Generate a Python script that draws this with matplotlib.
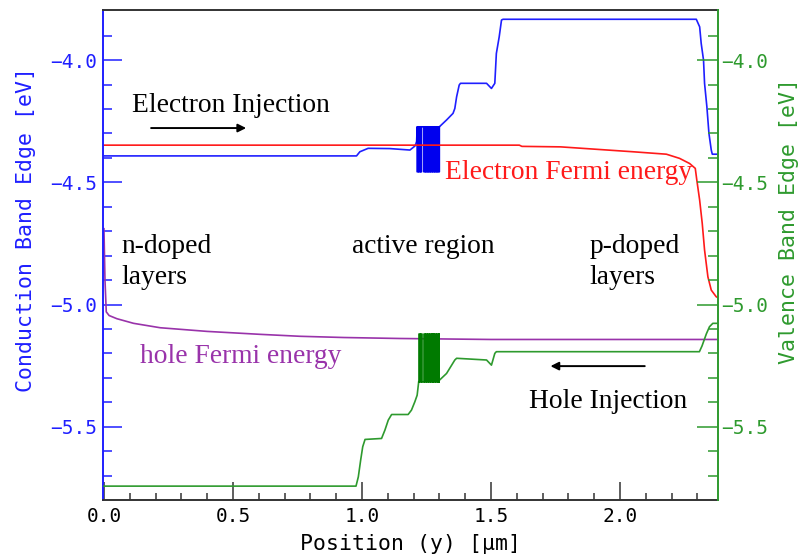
import numpy as np
import matplotlib
matplotlib.use("Agg")
import matplotlib.pyplot as plt
from matplotlib.ticker import FuncFormatter

# band edge profiles along the device [um, eV]
cb_left_x = [0.0, 0.979, 0.992, 1.024, 1.108, 1.186, 1.205, 1.212]
cb_left_y = [-4.392, -4.392, -4.375, -4.361, -4.362, -4.368, -4.352, -4.335]
cb_right_x = [1.300, 1.328, 1.353, 1.360, 1.367, 1.377, 1.382, 1.483, 1.502, 1.515,
              1.521, 1.532, 1.541, 1.547, 2.296, 2.309, 2.315, 2.324, 2.328, 2.337,
              2.345, 2.354, 2.358, 2.380]
cb_right_y = [-4.273, -4.245, -4.218, -4.198, -4.150, -4.102, -4.095, -4.095, -4.116, -4.095,
              -3.973, -3.905, -3.836, -3.833, -3.833, -3.864, -3.932, -4.000, -4.095, -4.191,
              -4.300, -4.368, -4.385, -4.385]
cb_barrier = -4.273
cb_well = -4.457
cb_wells = [(1.214, 1.218), (1.221, 1.225), (1.228, 1.231), (1.240, 1.244), (1.247, 1.251),
            (1.254, 1.258), (1.261, 1.265), (1.268, 1.272), (1.275, 1.279), (1.282, 1.286),
            (1.289, 1.293), (1.296, 1.300)]

vb_left_x = [0.0, 0.977, 0.986, 0.995, 1.003, 1.012, 1.076, 1.089, 1.102, 1.115, 1.179,
             1.192, 1.205, 1.214, 1.220]
vb_left_y = [-5.743, -5.743, -5.705, -5.637, -5.582, -5.552, -5.548, -5.514, -5.473, -5.450, -5.450,
             -5.432, -5.398, -5.371, -5.316]
vb_right_x = [1.300, 1.328, 1.360, 1.367, 1.483, 1.502, 1.515, 1.521, 2.308, 2.318, 2.335,
              2.347, 2.360, 2.380]
vb_right_y = [-5.310, -5.282, -5.227, -5.220, -5.227, -5.248, -5.200, -5.193, -5.193, -5.170, -5.120,
              -5.091, -5.077, -5.077]
vb_barrier = -5.316
vb_well = -5.121
vb_wells = [(1.220, 1.224), (1.227, 1.231), (1.242, 1.246), (1.249, 1.253), (1.256, 1.260),
            (1.263, 1.267), (1.270, 1.274), (1.277, 1.281), (1.284, 1.288), (1.291, 1.295),
            (1.297, 1.300)]

efn_x = [0.0, 1.61, 1.62, 1.77, 2.05, 2.18, 2.231, 2.27, 2.292, 2.298, 2.309, 2.319,
         2.328, 2.341, 2.354, 2.373, 2.380]
efn_y = [-4.348, -4.348, -4.353, -4.355, -4.375, -4.385, -4.402, -4.423, -4.443, -4.491, -4.573, -4.668,
         -4.777, -4.887, -4.941, -4.968, -4.972]

efp_x = [0.0, 0.004, 0.009, 0.02, 0.05, 0.115, 0.218, 0.4, 0.605, 0.76, 0.93, 1.147, 1.5, 2.38]
efp_y = [-4.69, -4.90, -5.03, -5.045, -5.058, -5.077, -5.095, -5.11, -5.122, -5.13, -5.135, -5.139,
         -5.143, -5.143]

BLUE = "#1f1fff"
RED = "#ff1a1a"
PURPLE = "#9933aa"
GREEN = "#2e9a2e"
DKGREEN = "#007a00"


def qw_profile(wells, barrier, well):
    # square-well stack: barrier between wells, step down/up at each edge
    xs, ys = [], []
    for a, b in wells:
        xs += [a, a, b, b]
        ys += [barrier, well, well, barrier]
    return xs, ys


fmt = FuncFormatter(lambda v, pos: f"{v:.1f}".replace("-", "\u2212"))

fig = plt.figure(figsize=(8.04, 5.55), dpi=100)
ax = fig.add_axes([0.128, 0.099, 0.765, 0.883])
ax2 = ax.twinx()

lw = 1.2
ax.plot(cb_left_x, cb_left_y, color=BLUE, lw=lw)
ax.plot(cb_right_x, cb_right_y, color=BLUE, lw=lw)
qx, qy = qw_profile(cb_wells, cb_barrier, cb_well)
ax.plot([cb_left_x[-1]] + qx + [cb_right_x[0]], [cb_left_y[-1]] + qy + [cb_right_y[0]],
        color="#0000ee", lw=lw)

ax.plot(efn_x, efn_y, color=RED, lw=lw)
ax.plot(efp_x, efp_y, color=PURPLE, lw=lw)

ax2.plot(vb_left_x, vb_left_y, color=GREEN, lw=lw)
ax2.plot(vb_right_x, vb_right_y, color=GREEN, lw=lw)
qx, qy = qw_profile(vb_wells, vb_barrier, vb_well)
ax2.plot([vb_left_x[-1]] + qx + [vb_right_x[0]], [vb_left_y[-1]] + qy + [vb_right_y[0]],
         color=DKGREEN, lw=lw)

# axes ranges and ticks
for a in (ax, ax2):
    a.set_xlim(-0.004, 2.38)
    a.set_ylim(-5.80, -3.795)
    a.set_yticks([-5.5, -5.0, -4.5, -4.0])
    a.set_yticks(np.arange(-5.7, -3.85, 0.1), minor=True)
    a.yaxis.set_major_formatter(fmt)
ax.set_xticks([0.0, 0.5, 1.0, 1.5, 2.0])
ax.set_xticks(np.arange(0.1, 2.35, 0.1), minor=True)
ax.xaxis.set_major_formatter(fmt)

mono = "DejaVu Sans Mono"
ax.tick_params(axis="x", which="major", direction="in", length=13, width=1.1,
               color="#333333", labelsize=14, pad=5)
ax.tick_params(axis="x", which="minor", direction="in", length=5, width=1.1, color="#333333")
ax.tick_params(axis="y", which="major", direction="in", length=14, width=1.1,
               color=BLUE, labelcolor=BLUE, labelsize=14, pad=4)
ax.tick_params(axis="y", which="minor", direction="in", length=6.5, width=1.1, color=BLUE)
ax2.tick_params(axis="y", which="major", direction="in", length=15, width=1.1,
                color=GREEN, labelcolor=GREEN, labelsize=14, pad=2)
ax2.tick_params(axis="y", which="minor", direction="in", length=7.5, width=1.1, color=GREEN)
for lab in ax.get_xticklabels() + ax.get_yticklabels() + ax2.get_yticklabels():
    lab.set_family(mono)

ax.spines["left"].set_color(BLUE)
ax.spines["right"].set_visible(False)
ax.spines["top"].set_color("#333333")
ax.spines["bottom"].set_color("#333333")
ax2.spines["right"].set_color(GREEN)
ax2.spines["left"].set_visible(False)
ax2.spines["top"].set_visible(False)
ax2.spines["bottom"].set_visible(False)
for s in ("left", "top", "bottom"):
    ax.spines[s].set_linewidth(1.4)
ax2.spines["right"].set_linewidth(1.4)

ax.set_xlabel("Position (y) [\u03bcm]", family=mono, fontsize=15.5)
ax.xaxis.set_label_coords(0.5, -0.07)
fig.text(26 / 804, 1 - 230 / 555, "Conduction Band Edge [eV]", family=mono, fontsize=15.5,
         color=BLUE, rotation=90, ha="center", va="center")
fig.text(789 / 804, 1 - 221 / 555, "Valence Band Edge [eV]", family=mono, fontsize=15.5,
         color=GREEN, rotation=90, ha="center", va="center")

# annotations
serif = "Liberation Serif"
fs = 19.8
ax.text(0.108, -4.213, "Electron Injection", family=serif, fontsize=fs, va="baseline")
ax.annotate("", xy=(0.562, -4.278), xytext=(0.172, -4.278),
            arrowprops=dict(arrowstyle="-|>", color="black", lw=1.4, mutation_scale=12))
ax.text(1.321, -4.488, "Electron Fermi energy", family=serif, fontsize=fs, va="baseline", color=RED)
ax.text(0.066, -4.791, "n-doped", family=serif, fontsize=fs, va="baseline")
ax.text(0.066, -4.918, "layers", family=serif, fontsize=fs, va="baseline")
ax.text(0.963, -4.791, "active region", family=serif, fontsize=fs, va="baseline")
ax.text(1.883, -4.791, "p-doped", family=serif, fontsize=fs, va="baseline")
ax.text(1.883, -4.918, "layers", family=serif, fontsize=fs, va="baseline")
ax.text(0.141, -5.241, "hole Fermi energy", family=serif, fontsize=fs, va="baseline", color=PURPLE)
ax.text(1.648, -5.423, "Hole Injection", family=serif, fontsize=fs, va="baseline")
ax.annotate("", xy=(1.720, -5.252), xytext=(2.107, -5.252),
            arrowprops=dict(arrowstyle="-|>", color="black", lw=1.4, mutation_scale=12))

fig.savefig("out.png", dpi=100)
